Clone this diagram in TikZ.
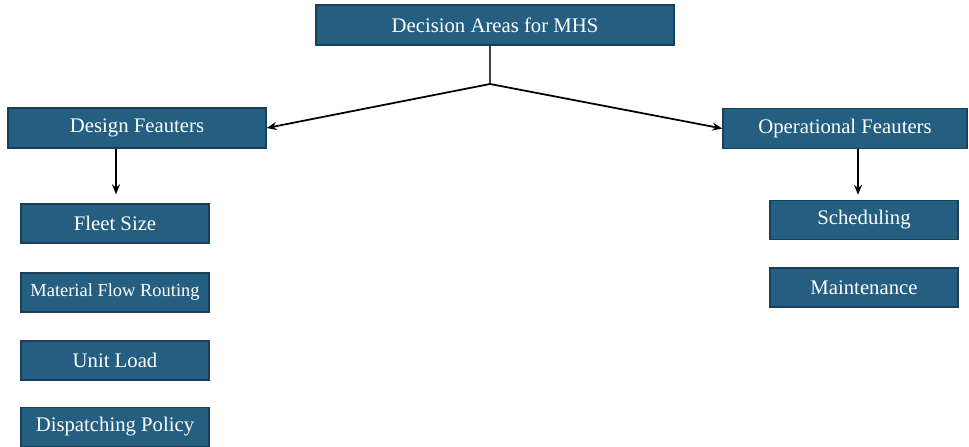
\documentclass[tikz,border=0pt]{standalone}
\usepackage{fontspec}
\setmainfont{Liberation Serif}
\usetikzlibrary{arrows.meta, positioning, calc}
\definecolor{cbox}{HTML}{245E80}
\definecolor{cedge}{HTML}{1B3F58}
\tikzset{
  every picture/.style={line width=1pt},
  box/.style={draw=cedge, fill=cbox, text=white, line width=0.8pt, inner sep=0pt,
    minimum width=#1, minimum height=0.8cm, font=\fontsize{11.8}{13}\selectfont},
  box/.default=3.76cm,
  leaf/.style={box=3.76cm, minimum height=0.78cm},
  arrow/.style={-{Stealth[length=2mm, width=1.6mm]}, draw=black},
}
\begin{document}
\begin{tikzpicture}
  \useasboundingbox (0,0) rectangle (19.38,-8.92);
  \node[box=7.16cm] (top) at (9.90,-0.50) {Decision Areas for MHS};
  \node[box=5.16cm] (design) at (2.74,-2.56) {Design Feauters};
  \node[box=4.88cm] (oper) at (16.90,-2.57) {Operational Feauters};
  \coordinate (split) at (9.80,-1.68);
  % design side
  \node[leaf] (fleet) at (2.30,-4.47) {Fleet Size};
  \node[leaf, font=\fontsize{10.5}{12}\selectfont] (route) at (2.30,-5.85) {Material Flow Routing};
  \node[leaf] (unit) at (2.30,-7.21) {Unit Load};
  \node[leaf] (disp) at (2.30,-8.54) {Dispatching Policy};
  % operational side
  \node[leaf] (sched) at (17.28,-4.40) {Scheduling};
  \node[leaf] (maint) at (17.28,-5.75) {Maintenance};
  \draw[draw=black!75] (top.south -| split) -- (split);
  \draw[arrow] (split) -- (design.east);
  \draw[arrow] (split) -- (oper.west);
  \draw[arrow, shorten >=0.18cm] (design.south -| 2.32,0) -- (fleet.north -| 2.32,0);
  \draw[arrow, shorten >=0.10cm] (oper.south -| 17.16,0) -- (sched.north -| 17.16,0);
\end{tikzpicture}
\end{document}
